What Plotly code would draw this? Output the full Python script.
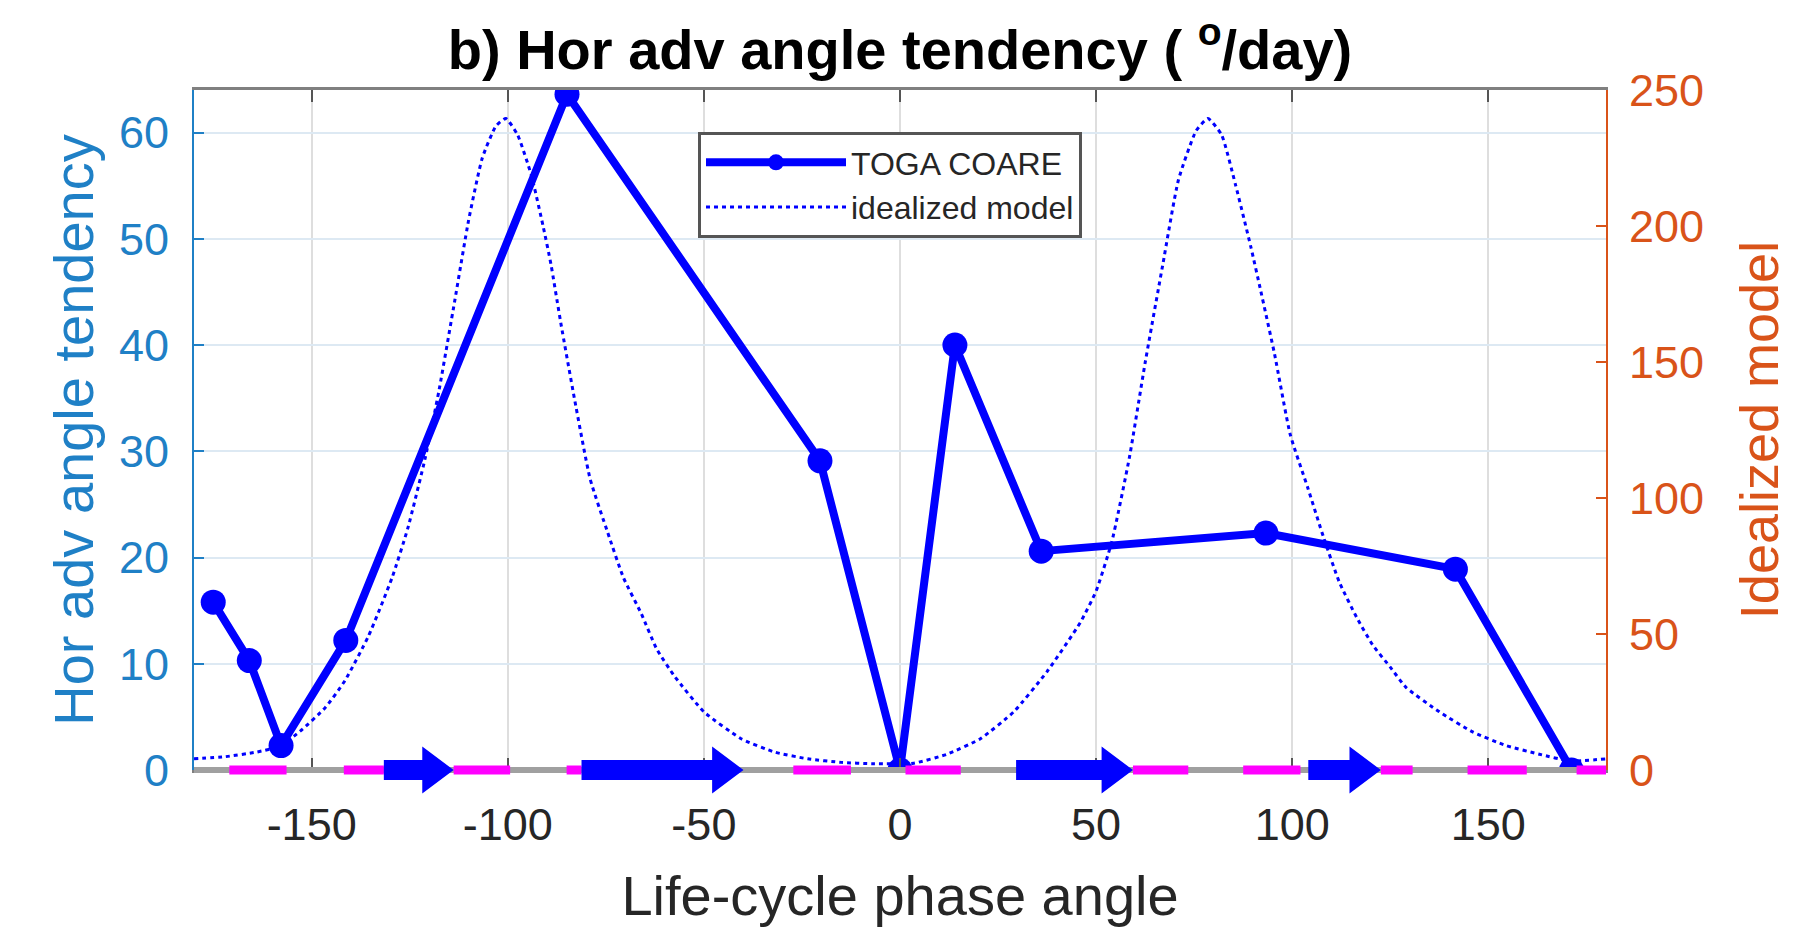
import plotly.graph_objects as go

# ---------------- data ----------------
toga_x = [-175.1, -165.9, -157.8, -141.3, -84.9, -20.4, 0.0, 14.0, 36.0, 93.3, 141.6, 171.2]
toga_y = [15.8, 10.3, 2.3, 12.2, 63.6, 29.1, 0.0, 40.0, 20.6, 22.3, 18.9, 0.0]

ideal_x = [-180, -172, -164, -158, -152.5, -146.5, -141.5, -135.5, -129.5, -125.5, -121,
           -117.5, -113.5, -110, -106.5, -103, -100.5, -97.5, -94, -91, -89, -86.5, -83,
           -79, -74.5, -70.5, -66, -62, -57.5, -50, -40.5, -32, -23.5, -15, -7, 3.5, 12,
           20.5, 29, 37.5, 46, 50, 54, 58.5, 62.5, 67, 71, 75.5, 78.5, 82, 85.5, 89.5, 92,
           95.5, 99.5, 104, 108, 112, 116.5, 120.5, 125, 129, 137.5, 146, 154.5, 163, 171, 180]
ideal_y = [4.1, 4.9, 6.6, 8.8, 14.8, 23, 32.9, 49.3, 70.7, 88.8, 115,
           139.8, 172.7, 202, 225, 236.8, 239.5, 233.5, 218.7, 200, 186, 164.5, 136.5,
           107, 87.2, 70.7, 57.6, 44.4, 34.5, 21.4, 11.5, 6.6, 4.1, 2.8, 2.3, 2.5, 5.8,
           11.5, 21.4, 36.2, 54.3, 65.8, 83.9, 115, 149.7, 185.8, 217, 235, 239.5, 233.5, 215.4, 192, 176,
           152.9, 123.3, 103.6, 85.5, 69.1, 55.9, 46, 37.8, 30.4, 21.4, 14, 9.0, 5.8, 3.3, 4.1]

# magenta segments along the phase axis (start, end)
magenta_start = [-171.0, -141.8, -113.8, -85.0, -27.2, 1.4, 59.4, 87.5, 122.6, 144.7, 172.5]
magenta_end = [-156.4, -131.6, -99.4, -81.2, -12.5, 15.5, 73.5, 102.1, 130.7, 159.8, 180.0]

# blue arrows along the phase axis (tail, tip)
arrow_tail = [-131.6, -81.2, 29.6, 104.1]
arrow_tip = [-113.8, -39.9, 59.4, 122.6]

x_ticks = [-150, -100, -50, 0, 50, 100, 150]
x_tick_text = ["-150", "-100", "-50", "0", "50", "100", "150"]
y_left_ticks = [0, 10, 20, 30, 40, 50, 60]
y_right_ticks = [0, 50, 100, 150, 200, 250]

# ---------------- style ----------------
BLUE = "#0000ff"
LEFT_C = "#1f80c6"
RIGHT_C = "#d95319"
TXT = "#262626"
FONT = "Liberation Sans, Arial, sans-serif"

W, H = 1793, 929
ML, MR, MT, MB = 194, 187, 90, 159
plot_h = H - MT - MB

fig = go.Figure()
fig.add_trace(go.Scatter(
    x=toga_x, y=toga_y, mode="lines+markers", name="TOGA COARE",
    line=dict(color=BLUE, width=8), marker=dict(size=25, color=BLUE),
))
fig.add_trace(go.Scatter(
    x=ideal_x, y=ideal_y, yaxis="y2", mode="lines", name="idealized model",
    line=dict(color=BLUE, width=3, dash="4px,4px", shape="spline", smoothing=0.5),
))

shapes = []
shapes.append(dict(type="line", xref="x", yref="paper", x0=-180, x1=180, y0=0, y1=0,
                   line=dict(color="#a0a0a0", width=6), layer="above"))
for s, e in zip(magenta_start, magenta_end):
    shapes.append(dict(type="line", xref="x", yref="paper", x0=s, x1=e, y0=0, y1=0,
                       line=dict(color="#ff00ff", width=9), layer="above"))
hs = 10.0 / plot_h
hh = 23.5 / plot_h
head_len = 8.0
for t, p in zip(arrow_tail, arrow_tip):
    b = p - head_len
    path = (f"M {t},{-hs} L {b},{-hs} L {b},{-hh} L {p},0 L {b},{hh} "
            f"L {b},{hs} L {t},{hs} Z")
    shapes.append(dict(type="path", xref="x", yref="paper", path=path,
                       fillcolor=BLUE, line=dict(width=0), layer="above"))

fig.update_layout(
    width=W, height=H,
    margin=dict(l=ML, r=MR, t=MT, b=MB),
    paper_bgcolor="white", plot_bgcolor="white",
    font=dict(family=FONT, color=TXT),
    title=dict(text="<b>b) Hor adv angle tendency ( <sup>o</sup>/day)</b>",
               x=0.5, xref="paper", xanchor="center",
               y=1 - 49 / H, yref="container", yanchor="middle",
               font=dict(size=56, color="black", family=FONT)),
    xaxis=dict(range=[-180, 180], tickvals=x_ticks, ticktext=x_tick_text,
               ticks="inside", ticklen=12,
               tickwidth=2, tickcolor="#555555", showline=True, linecolor="#808080",
               linewidth=3, mirror="ticks", showgrid=True, gridcolor="#dedede",
               gridwidth=1.5, zeroline=False,
               tickfont=dict(size=45, color=TXT), ticklabelstandoff=13,
               title=dict(text="Life-cycle phase angle", font=dict(size=56, color=TXT),
                          standoff=27)),
    yaxis=dict(range=[0, 64], tickvals=y_left_ticks, ticks="inside", ticklen=10,
               tickwidth=2, tickcolor=LEFT_C, showline=True, linecolor=LEFT_C,
               linewidth=2, showgrid=True, gridcolor="#dde9f3", gridwidth=1.5,
               zeroline=False, tickfont=dict(size=45, color=LEFT_C),
               ticklabelstandoff=14,
               title=dict(text="Hor adv angle tendency", font=dict(size=56, color=LEFT_C),
                          standoff=7)),
    yaxis2=dict(range=[0, 250], tickvals=y_right_ticks, overlaying="y", side="right",
                ticks="inside", ticklen=10, tickwidth=2, tickcolor=RIGHT_C,
                showline=True, linecolor=RIGHT_C, linewidth=2, showgrid=False,
                zeroline=False, tickfont=dict(size=45, color=RIGHT_C),
                ticklabelstandoff=12,
                title=dict(text="Idealized model", font=dict(size=54, color=RIGHT_C),
                           standoff=37)),
    legend=dict(x=(698 - ML) / (W - ML - MR), y=(H - MB - 132) / plot_h,
                xanchor="left", yanchor="top", bgcolor="white",
                bordercolor="#555555", borderwidth=3,
                font=dict(size=32, color=TXT), itemwidth=140, tracegroupgap=0),
    shapes=shapes,
    showlegend=True,
)

fig.write_html("out.html")
